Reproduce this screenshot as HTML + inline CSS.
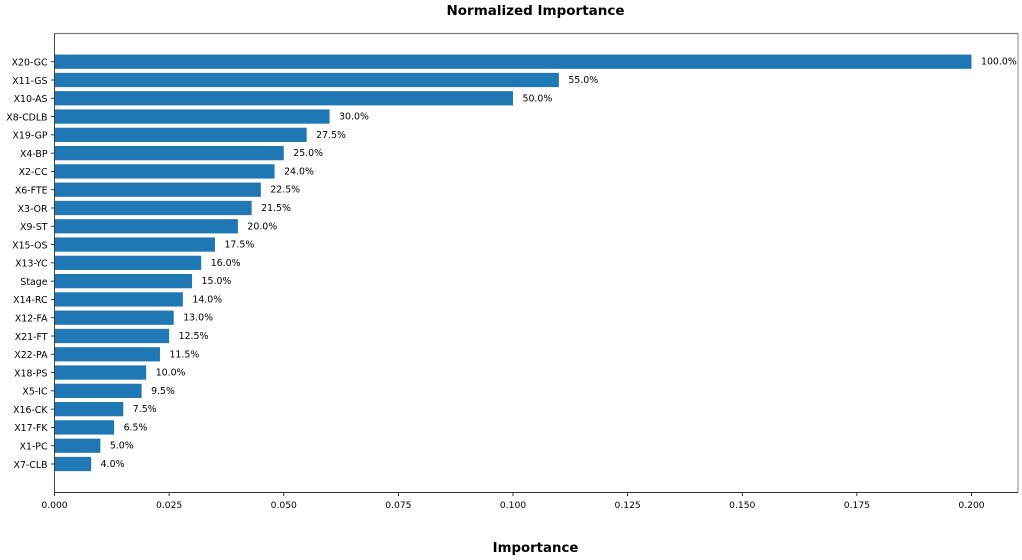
<!DOCTYPE html>
<html>
<head>
<meta charset="utf-8">
<title>Normalized Importance</title>
<style>
html,body{margin:0;padding:0;background:#fff;}
svg{display:block;font-family:"DejaVu Sans","Liberation Sans",sans-serif;}
</style>
</head>
<body>
<svg id="chart" xmlns="http://www.w3.org/2000/svg" width="1022" height="560" viewBox="0 0 1022 560">
<rect x="0" y="0" width="1022" height="560" fill="#ffffff"/>
<g id="plot" style="filter:blur(0.35px)"></g>
</svg>
<script>
const categories = ["X20-GC","X11-GS","X10-AS","X8-CDLB","X19-GP","X4-BP","X2-CC","X6-FTE","X3-OR","X9-ST","X15-OS","X13-YC","Stage","X14-RC","X12-FA","X21-FT","X22-PA","X18-PS","X5-IC","X16-CK","X17-FK","X1-PC","X7-CLB"];
const importance = [0.2,0.11,0.1,0.06,0.055,0.05,0.048,0.045,0.043,0.04,0.035,0.032,0.03,0.028,0.026,0.025,0.023,0.02,0.019,0.015,0.013,0.01,0.008];
const percentLabels = ["100.0%","55.0%","50.0%","30.0%","27.5%","25.0%","24.0%","22.5%","21.5%","20.0%","17.5%","16.0%","15.0%","14.0%","13.0%","12.5%","11.5%","10.0%","9.5%","7.5%","6.5%","5.0%","4.0%"];
const xTicks = [0,0.025,0.05,0.075,0.1,0.125,0.15,0.175,0.2];
const xTickLabels = ["0.000","0.025","0.050","0.075","0.100","0.125","0.150","0.175","0.200"];

const NS = "http://www.w3.org/2000/svg";
const plot = document.getElementById("plot");
const left = 54.5, right = 1018, top_ = 33.5, bottom = 492.5;
const x0 = 54.5, xPerUnit = (971.5 - 54.5) / 0.2;
const y0 = 61.7, yStep = (464 - 61.7) / 22, barH = yStep * 0.78;
const xScale = v => x0 + v * xPerUnit;
const yScale = i => y0 + i * yStep;
const ink = "#000000";

function make(tag, attrs, text) {
  const el = document.createElementNS(NS, tag);
  for (const k in attrs) el.setAttribute(k, attrs[k]);
  if (text !== undefined) el.textContent = text;
  plot.appendChild(el);
  return el;
}

categories.forEach((cat, i) => {
  const yc = yScale(i);
  const bar = make("rect", {x: xScale(0), y: yc - barH / 2, width: xScale(importance[i]) - xScale(0), height: barH, fill: "#1f77b4"});
  
  

  const tick = make("line", {x1: left - 3.5, x2: left, y1: yc, y2: yc, stroke: ink, "stroke-width": 0.8});
  
  

  const label = make("text", {x: left - 7, y: yc + 3.8, "text-anchor": "end", "font-size": 9.4, fill: ink}, cat);
  
  

  const val = make("text", {x: xScale(importance[i]) + 9.5, y: yc + 3, "font-size": 9.4, fill: ink}, percentLabels[i]);
  
  
});

xTicks.forEach((t, i) => {
  const xp = xScale(t);
  const tick = make("line", {x1: xp, x2: xp, y1: bottom, y2: bottom + 3.5, stroke: ink, "stroke-width": 0.8});
  
  

  const label = make("text", {x: xp, y: bottom + 15.5, "text-anchor": "middle", "font-size": 9.2, fill: ink}, xTickLabels[i]);
  
  
});

const spineTop = make("line", {x1: left, x2: right, y1: top_, y2: top_, stroke: "#777777", "stroke-width": 1.2});


const spineRight = make("line", {x1: right, x2: right, y1: top_, y2: bottom, stroke: "#888888", "stroke-width": 1});


const spineBottom = make("line", {x1: left, x2: right, y1: bottom, y2: bottom, stroke: "#333333", "stroke-width": 0.9});


const spineLeft = make("line", {x1: left, x2: left, y1: top_, y2: bottom, stroke: "#333333", "stroke-width": 0.9});



const title = make("text", {x: 535.5, y: 15, "text-anchor": "middle", "font-size": 13.5, "font-weight": "bold", fill: "#000"}, "Normalized Importance");


const xTitle = make("text", {x: 535.5, y: 552, "text-anchor": "middle", "font-size": 13.3, "font-weight": "bold", fill: "#000"}, "Importance");


</script>
</body>
</html>
